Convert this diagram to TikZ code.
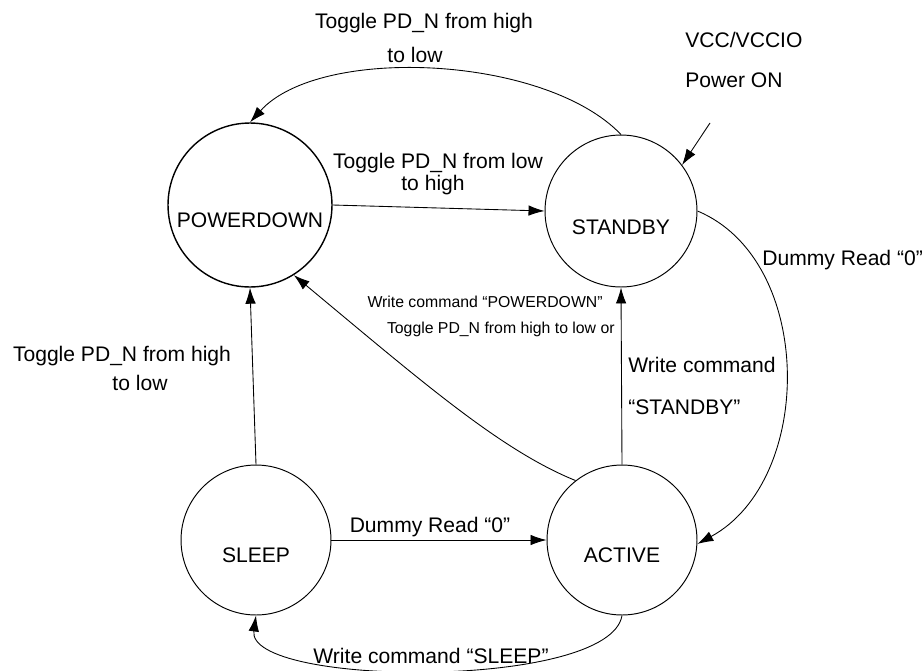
\documentclass[tikz,border=0pt]{standalone}
\usepackage{fontspec}
\setmainfont{Liberation Sans}
\usetikzlibrary{arrows.meta}
\tikzset{
  state/.style={draw, circle, line width=0.55pt, minimum size=3cm, inner sep=0pt},
  lbl/.style={font=\fontsize{12}{14}\selectfont, inner sep=0pt},
  smalllbl/.style={font=\fontsize{9}{11}\selectfont, inner sep=0pt},
  trans/.style={line width=0.5pt, -{Latex[length=3.2mm,width=2.1mm]}}
}
\begin{document}
\begin{tikzpicture}[x=0.02cm,y=0.02cm]
\useasboundingbox (0,0) rectangle (923,-670);

% states
\node[state, minimum size=3.28cm, line width=0.8pt, label={[lbl,yshift=-0.3cm]center:POWERDOWN}] (pd) at (250,-205) {};
\node[state, minimum size=3.04cm, label={[lbl,yshift=-0.32cm]center:STANDBY}] (sd) at (621,-211) {};
\node[state, label={[lbl,yshift=-0.3cm]center:SLEEP}] (sl) at (256,-540) {};
\node[state, label={[lbl,yshift=-0.3cm]center:ACTIVE}] (act) at (622,-540) {};

% power on
\coordinate (pwr) at (710,-123);
\node[lbl, anchor=west] (vcc) at (685,-40) {VCC/VCCIO};
\node[lbl, anchor=west] (pon) at (685,-80) {Power ON};
\draw[trans] (pwr) -- (sd.37);

% standby -> powerdown
\draw[trans] (sd.north) .. controls (545,-55) and (320,-45) .. (pd.north);
\node[lbl] (pdtop1) at (424,-23) {Toggle PD\_N from high};
\node[lbl] (pdtop2) at (415,-55) {to low};

% powerdown -> standby
\draw[trans] (pd.east) -- (sd.west);
\node[lbl] (sdup1) at (438,-163) {Toggle PD\_N from low};
\node[lbl] (sdup2) at (433,-185) {to high};

% standby -> active
\draw[trans] (sd.east) .. controls (815,-260) and (815,-480) .. (act.-3);
\node[lbl, anchor=west] (dr1) at (762,-260) {Dummy Read “0”};

% active -> standby
\draw[trans] (act.north) -- (sd.south);
\node[lbl, anchor=west] (wc1) at (628,-365) {Write command};
\node[lbl, anchor=west] (wc2) at (628,-407) {“STANDBY”};

% active -> powerdown
\draw[trans] (act.128) .. controls (500,-450) and (420,-380) .. (pd.-58);
\node[smalllbl, anchor=east] (wpd1) at (603,-302) {Write command “POWERDOWN”};
\node[smalllbl, anchor=east] (wpd2) at (615,-329) {Toggle PD\_N from high to low or};

% sleep -> powerdown
\draw[trans] (sl.north) -- (pd.south);
\node[lbl] (slp1) at (122,-356) {Toggle PD\_N from high};
\node[lbl] (slp2) at (140,-383) {to low};

% sleep -> active
\draw[trans] (sl.east) -- (act.west);
\node[lbl] (dr2) at (430,-527) {Dummy Read “0”};

% active -> sleep
\draw[trans] (act.south) .. controls (610,-690) and (246,-687) .. (sl.south);
\node[lbl] (wsl) at (431,-656) {Write command “SLEEP”};
\end{tikzpicture}
\end{document}
